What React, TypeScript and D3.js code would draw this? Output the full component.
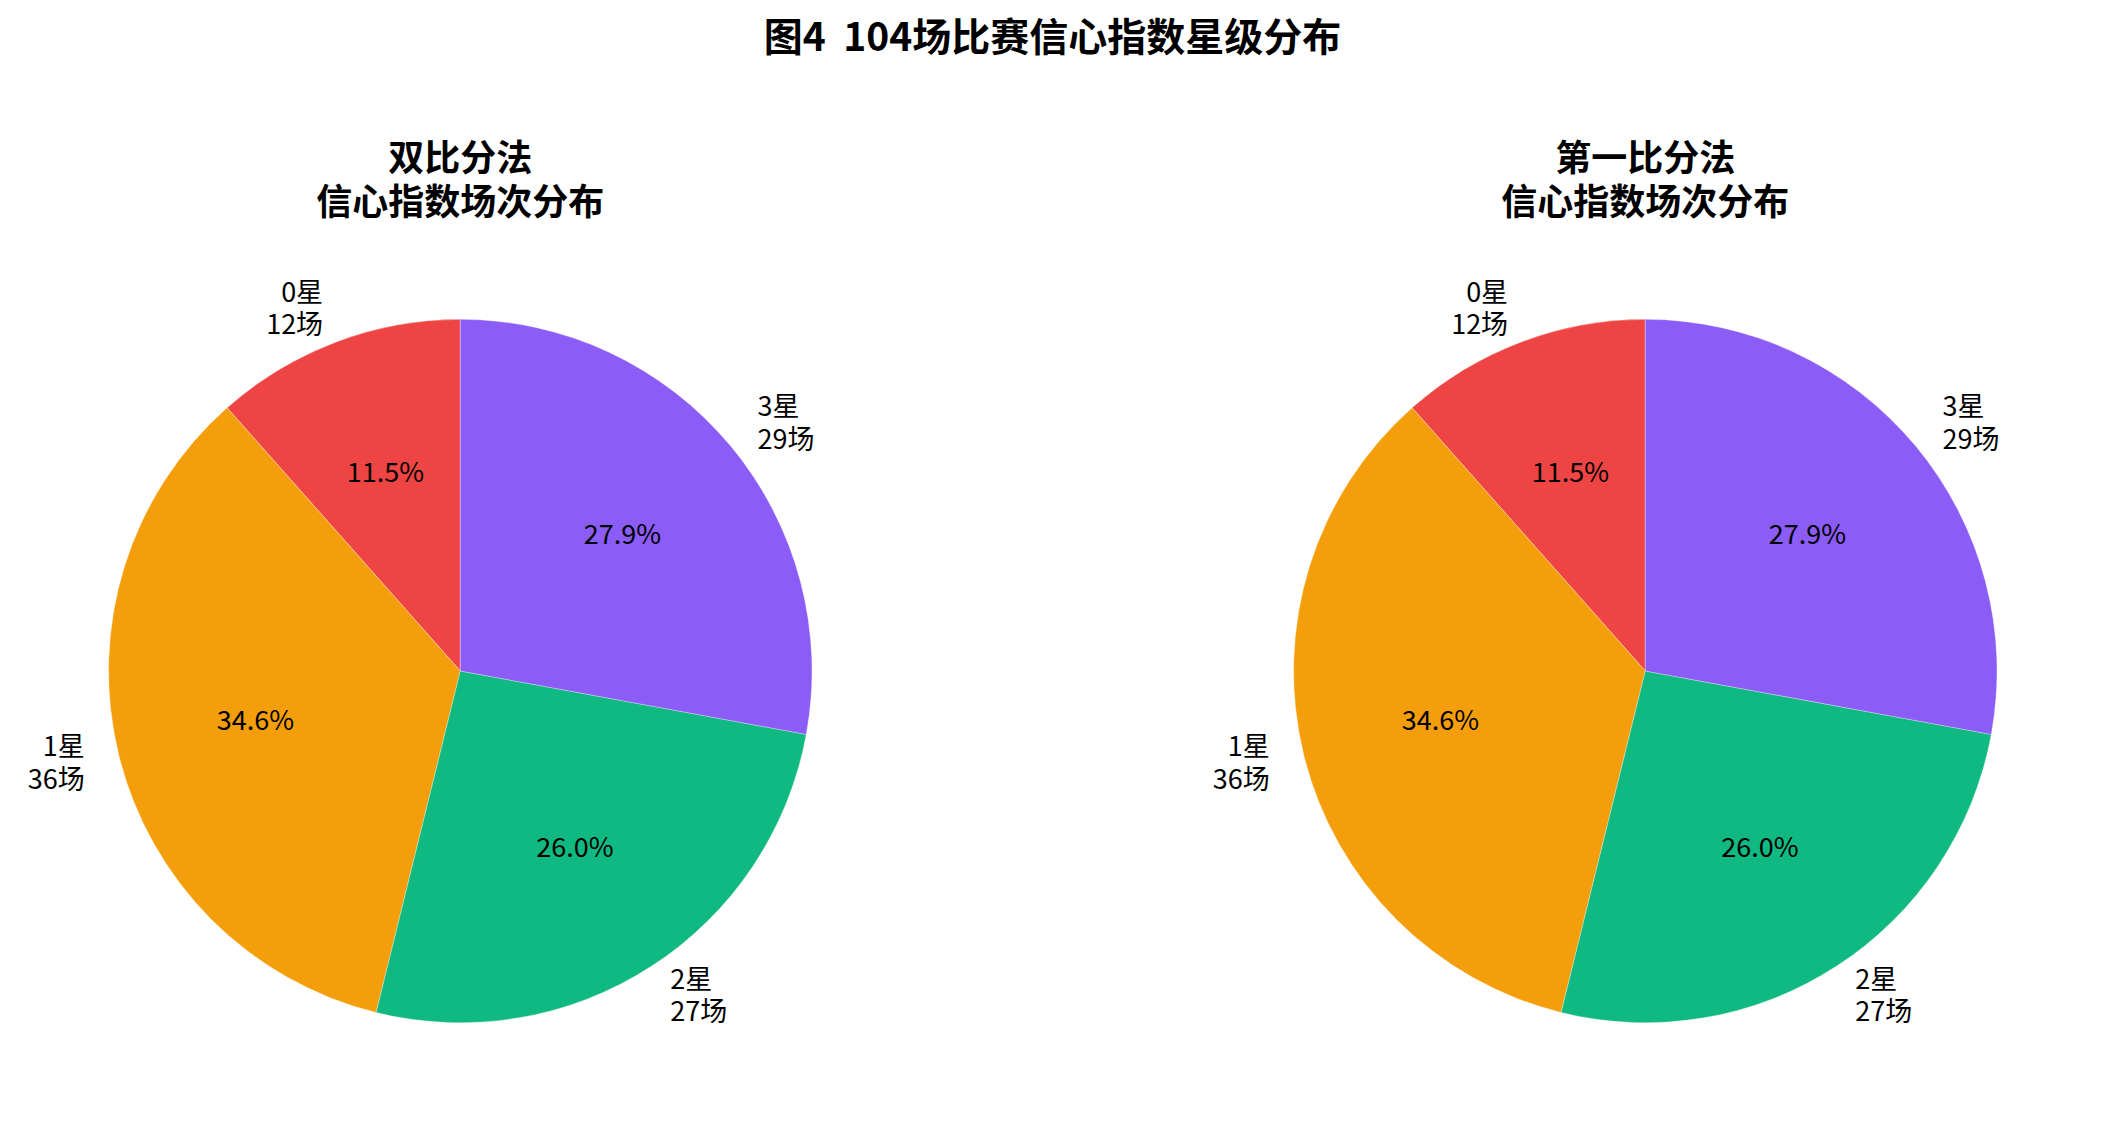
import { useMemo } from "react";
import * as d3 from "d3";

// 数据
const categories = ["0星", "1星", "2星", "3星"];
const methods = ["双比分法", "第一比分法"];
const doubleScoreCounts = [12, 36, 27, 29];
const firstScoreCounts = [12, 36, 27, 29];
const sliceColors = ["#EF4444", "#F59E0B", "#10B981", "#8B5CF6"];
const mainTitle = "图4  104场比赛信心指数星级分布";
const subTitleLine2 = "信心指数场次分布";

const WIDTH = 2105;
const HEIGHT = 1132;
const FONT = '"Noto Sans CJK SC", "Noto Sans", sans-serif';
// central 基线与 matplotlib 的差
const TEXT_DY = -3;

type Slice = { category: string; value: number };

function Pie({
  cx,
  cy,
  radius,
  title,
  counts,
}: {
  cx: number;
  cy: number;
  radius: number;
  title: string;
  counts: number[];
}) {
  const data: Slice[] = useMemo(
    () => categories.map((c, i) => ({ category: c, value: counts[i] })),
    [counts],
  );
  const total = d3.sum(counts);

  // matplotlib の startangle=90, 反時計回り
  const arcs = useMemo(
    () =>
      d3
        .pie<Slice>()
        .sort(null)
        .value((d) => d.value)
        .startAngle(0)
        .endAngle(-2 * Math.PI)(data),
    [data],
  );
  const arcGen = d3.arc<d3.PieArcDatum<Slice>>().innerRadius(0).outerRadius(radius);
  const color = d3.scaleOrdinal<string, string>().domain(categories).range(sliceColors);
  const pct = d3.format(".1%");

  const pos = (a: number, k: number) => ({
    x: Math.sin(a) * radius * k,
    y: -Math.cos(a) * radius * k + TEXT_DY,
  });

  return (
    <g>
      <text
        x={cx}
        textAnchor="middle"
        dominantBaseline="central"
        style={{ fontSize: "36px", fontWeight: 700, fontFamily: FONT }}
      >
        <tspan x={cx} y={155}>
          {title}
        </tspan>
        <tspan x={cx} y={199}>
          {subTitleLine2}
        </tspan>
      </text>
      <g transform={`translate(${cx},${cy})`}>
        {arcs.map((a) => (
          <path
            key={a.data.category}
            d={arcGen(a) ?? ""}
            fill={color(a.data.category)}
            stroke="#ffffff"
            strokeWidth={0.6}
            strokeOpacity={0.5}
          />
        ))}
        {arcs.map((a) => {
          const mid = (a.startAngle + a.endAngle) / 2;
          const p = pos(mid, 0.6);
          return (
            <text
              key={`pct-${a.data.category}`}
              x={p.x}
              y={p.y}
              textAnchor="middle"
              dominantBaseline="central"
              style={{ fontSize: "27px", fontFamily: FONT }}
            >
              {pct(a.data.value / total)}
            </text>
          );
        })}
        {arcs.map((a) => {
          const mid = (a.startAngle + a.endAngle) / 2;
          const p = pos(mid, 1.1);
          const anchor = p.x < 0 ? "end" : "start";
          return (
            <text
              key={`lab-${a.data.category}`}
              textAnchor={anchor}
              dominantBaseline="central"
              style={{ fontSize: "27px", fontFamily: FONT }}
            >
              <tspan x={p.x} y={p.y - 16.2}>
                {a.data.category}
              </tspan>
              <tspan x={p.x} y={p.y + 16.2}>
                {`${a.data.value}场`}
              </tspan>
            </text>
          );
        })}
      </g>
    </g>
  );
}

export default function App() {
  const xScale = d3.scalePoint<string>().domain(methods).range([460.3, 1645.3]);
  const cy = 671;
  const radius = 351.7;

  return (
    <svg
      width={WIDTH}
      height={HEIGHT}
      viewBox={`0 0 ${WIDTH} ${HEIGHT}`}
      style={{ position: "absolute", left: 0, top: 0, background: "#ffffff" }}
    >
      <text
        x={WIDTH / 2}
        y={34}
        textAnchor="middle"
        dominantBaseline="central"
        style={{ fontSize: "39px", fontWeight: 700, fontFamily: FONT, whiteSpace: "pre" }}
      >
        {mainTitle}
      </text>
      <Pie
        cx={xScale(methods[0]) ?? 0}
        cy={cy}
        radius={radius}
        title={methods[0]}
        counts={doubleScoreCounts}
      />
      <Pie
        cx={xScale(methods[1]) ?? 0}
        cy={cy}
        radius={radius}
        title={methods[1]}
        counts={firstScoreCounts}
      />
    </svg>
  );
}
